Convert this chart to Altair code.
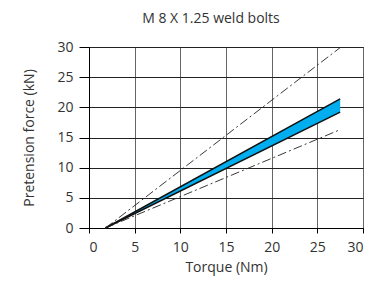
import altair as alt
import pandas as pd

x_start = 1.8
x_end = 27.5
band_low_end = 19.2
band_high_end = 21.4
upper_limit_end = 29.9
lower_limit_end = 16.3

x_ticks = [0, 5, 10, 15, 20, 25, 30]
y_ticks = [0, 5, 10, 15, 20, 25, 30]

band = pd.DataFrame({
    "torque": [x_start, x_end],
    "low": [0, band_low_end],
    "high": [0, band_high_end],
})
lines = pd.DataFrame({
    "torque": [x_start, x_end, x_start, x_end],
    "force": [0, upper_limit_end, 0, lower_limit_end],
    "series": ["upper", "upper", "lower", "lower"],
})

font = "Open Sans"
fs = 14
xs = alt.Scale(domain=[0, 30], nice=False)
ys = alt.Scale(domain=[0, 30], nice=False)

xaxis = alt.Axis(values=x_ticks, title="Torque (Nm)", grid=True, gridColor="#666", gridWidth=1,
                 tickColor="#000", tickSize=5, domainColor="#000", labelFontSize=fs,
                 titleFontSize=fs, titleFontWeight="normal", labelFont=font, titleFont=font,
                 labelColor="#333", titleColor="#333", titlePadding=6, labelOverlap=False,
                 labelPadding=7)
yaxis = alt.Axis(values=y_ticks, title="Pretension force (kN)", grid=True, gridColor="#222", gridWidth=1,
                 tickColor="#000", tickSize=10, domainColor="#000", labelFontSize=fs,
                 titleFontSize=fs, titleFontWeight="normal", labelFont=font, titleFont=font,
                 labelColor="#333", titleColor="#333", titlePadding=20, labelOverlap=False,
                 labelPadding=6)

X = lambda f: alt.X(f, scale=xs, axis=xaxis)
Y = lambda f: alt.Y(f, scale=ys, axis=yaxis)

area = alt.Chart(band).mark_area(color="#00AEEF", opacity=1).encode(
    x=X("torque:Q"), y=Y("low:Q"), y2="high:Q",
)
edge_low = alt.Chart(band).mark_line(color="#111", strokeWidth=1.5).encode(
    x=X("torque:Q"), y=Y("low:Q"))
edge_high = alt.Chart(band).mark_line(color="#111", strokeWidth=1.5).encode(
    x=X("torque:Q"), y=Y("high:Q"))
limits = alt.Chart(lines).mark_line(color="#222", strokeWidth=0.9, strokeDash=[9, 3, 2, 3]).encode(
    x=X("torque:Q"), y=Y("force:Q"), detail="series:N")

chart = alt.layer(area, edge_low, edge_high, limits).properties(
    width=274, height=181,
    title=alt.TitleParams("M 8 X 1.25 weld bolts", font=font, fontSize=fs, fontWeight="normal",
                          color="#333", offset=14, dx=-15),
    autosize=alt.AutoSizeParams(type="none"),
    padding={"left": 81, "top": 39, "right": 13, "bottom": 54},
).configure_view(stroke="#000", strokeWidth=1)

chart.save("out.html", embed_options={"renderer": "svg", "actions": False})
